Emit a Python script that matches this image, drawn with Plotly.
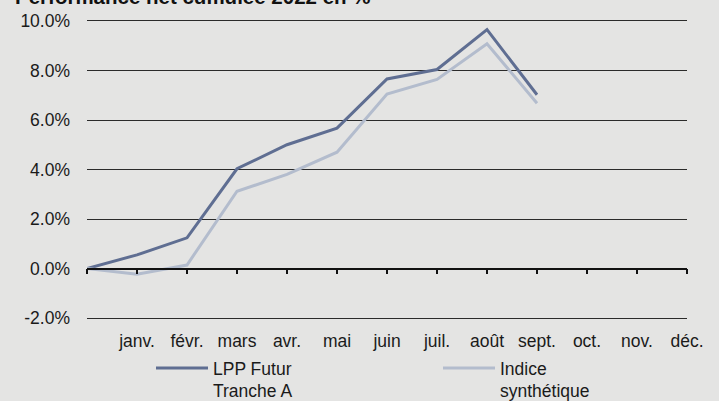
import plotly.graph_objects as go

months = ["", "janv.", "févr.", "mars", "avr.", "mai", "juin", "juil.", "août", "sept.", "oct.", "nov.", "déc."]
lpp_values = [0.0, 0.55, 1.24, 4.03, 5.0, 5.67, 7.66, 8.04, 9.65, 7.02]
indice_values = [0.0, -0.23, 0.14, 3.12, 3.8, 4.7, 7.05, 7.64, 9.08, 6.68]
y_ticks = [-2, 0, 2, 4, 6, 8, 10]
y_ticklabels = ["-2.0%", "0.0%", "2.0%", "4.0%", "6.0%", "8.0%", "10.0%"]
title_text = "Performance net cumulée 2022 en %"

positions = list(range(len(months)))
font_family = "Liberation Sans, Arial, sans-serif"
W, H = 719, 401
ML, MR, MT, MB = 87, 32, 21, 83
PW, PH = W - ML - MR, H - MT - MB

fig = go.Figure()
fig.add_trace(go.Scatter(
    x=positions[:len(lpp_values)], y=lpp_values, mode="lines",
    name="LPP Futur<br>Tranche A", legend="legend",
    line=dict(color="#5f6e92", width=3),
))
fig.add_trace(go.Scatter(
    x=positions[:len(indice_values)], y=indice_values, mode="lines",
    name="Indice<br>synthétique", legend="legend2",
    line=dict(color="#b3bccd", width=3),
))
# invisible trace that activates the tick axis drawn at 0%
fig.add_trace(go.Scatter(x=[positions[0]], y=[0], xaxis="x2", mode="lines",
                         showlegend=False, hoverinfo="skip", line=dict(width=0)))

legend_common = dict(
    orientation="v", xref="container", yref="container",
    xanchor="left", yanchor="top", y=1 - 350 / H,
    itemwidth=52, valign="top", bgcolor="rgba(0,0,0,0)",
    font=dict(size=17.5, color="#1a1a1a"), borderwidth=0,
)

fig.update_layout(
    width=W, height=H,
    margin=dict(l=ML, r=MR, t=MT, b=MB, autoexpand=False),
    paper_bgcolor="#e4e4e3", plot_bgcolor="#e4e4e3",
    font=dict(family=font_family, size=17.5, color="#1a1a1a"),
    xaxis=dict(
        range=[0, 12], tickmode="array",
        tickvals=positions[1:], ticktext=months[1:],
        showgrid=False, zeroline=False,
        showline=True, mirror=True, linecolor="#2a2a2a", linewidth=1,
        ticks="outside", ticklen=7, tickcolor="rgba(0,0,0,0)",
        tickangle=0, automargin=False, fixedrange=True,
    ),
    xaxis2=dict(
        range=[0, 12], overlaying="x", anchor="free", position=1 / 6,
        tickmode="array", tickvals=positions, showticklabels=False,
        showgrid=False, zeroline=False, showline=True,
        linecolor="#111111", linewidth=1.5,
        ticks="outside", ticklen=5, tickcolor="#111111", tickwidth=1.5,
        side="bottom", automargin=False,
    ),
    yaxis=dict(
        range=[-2, 10], tickmode="array", tickvals=y_ticks, ticktext=y_ticklabels,
        showgrid=True, gridcolor="#2a2a2a", gridwidth=1,
        zeroline=False, showline=False, ticks="", ticklabelstandoff=16,
        automargin=False,
    ),
    legend=dict(x=151 / W, **legend_common),
    legend2=dict(x=438 / W, **legend_common),
    showlegend=True,
    annotations=[dict(
        text="<b>" + title_text + "</b>", xref="paper", yref="paper",
        x=(13 - ML) / PW, xanchor="left", y=1 + 24 / PH, yanchor="middle",
        showarrow=False, font=dict(size=20.5, color="#111111"),
    )],
)

fig.write_html("out.html", config={"displayModeBar": False},
               post_script="document.body.style.margin='0';")
